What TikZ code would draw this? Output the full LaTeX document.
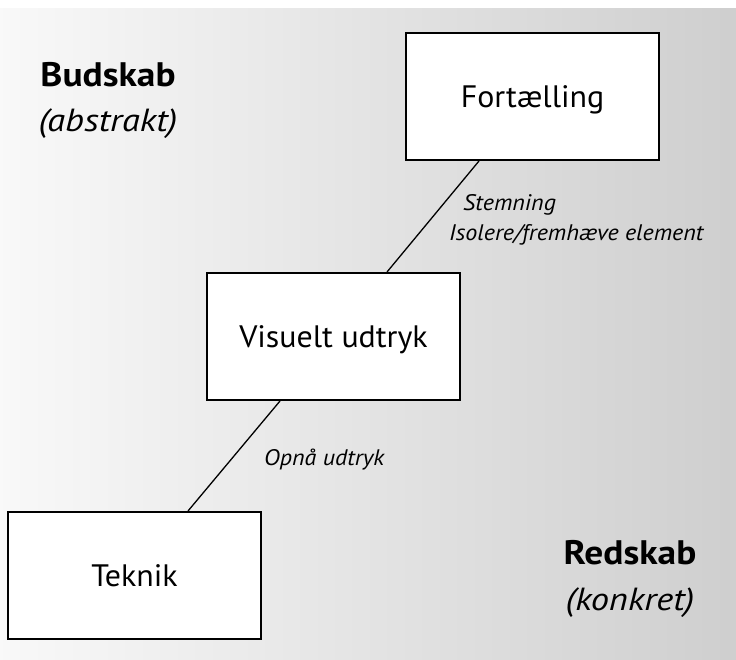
\documentclass[tikz,border=0pt]{standalone}
\usepackage{fontspec}
\setmainfont{PT Sans}
\begin{document}
\begin{tikzpicture}[x=1pt,y=-1pt,
  boxnode/.style={draw=black,line width=2pt,fill=white,rectangle,inner sep=0pt,
    minimum width=253pt,minimum height=127pt,
    font=\fontsize{31}{37}\selectfont\addfontfeature{FakeStretch=1.03},
    text height=21.5pt,text depth=0pt},
  conn/.style={draw=black,line width=1.3pt},
  headbold/.style={font=\bfseries\fontsize{34}{40}\selectfont\addfontfeature{FakeStretch=1.1},anchor=base,inner sep=0pt},
  headital/.style={font=\itshape\fontsize{32}{38}\selectfont\addfontfeature{FakeStretch=1.14},anchor=base,inner sep=0pt},
  labtext/.style={font=\itshape\fontsize{22.5}{27}\selectfont\addfontfeature{FakeStretch=1.07},anchor=base west,inner sep=0pt}]
\useasboundingbox (0,0) rectangle (736,660);
\fill[white] (0,0) rectangle (736,660);
\shade[left color=black!2.5,right color=black!19] (0,9) rectangle (736,660);
% boxes
\node[boxnode] (F) at (532.5,96.5) {Fortælling};
\node[boxnode] (V) at (333.5,336.5) {Visuelt udtryk};
\node[boxnode] (T) at (134.5,575.5) {Teknik};
% connectors
\draw[conn] ([xshift=-53.5pt]F.south) -- ([xshift=53.5pt]V.north);
\draw[conn] ([xshift=-53.5pt]V.south) -- ([xshift=53.5pt]T.north);
% headings
\node[headbold] (bud) at (108,86.7) {Budskab};
\node[headital] (abs) at (108,131.5) {(abstrakt)};
\node[headbold] (red) at (630,564) {Redskab};
\node[headital] (kon) at (630,610) {(konkret)};
% labels
\node[labtext] (l1) at (463,211) {Stemning};
\node[labtext] (l2) at (449,241) {Isolere/fremhæve element};
\node[labtext] (l3) at (264,465) {Opnå udtryk};
\end{tikzpicture}
\end{document}
